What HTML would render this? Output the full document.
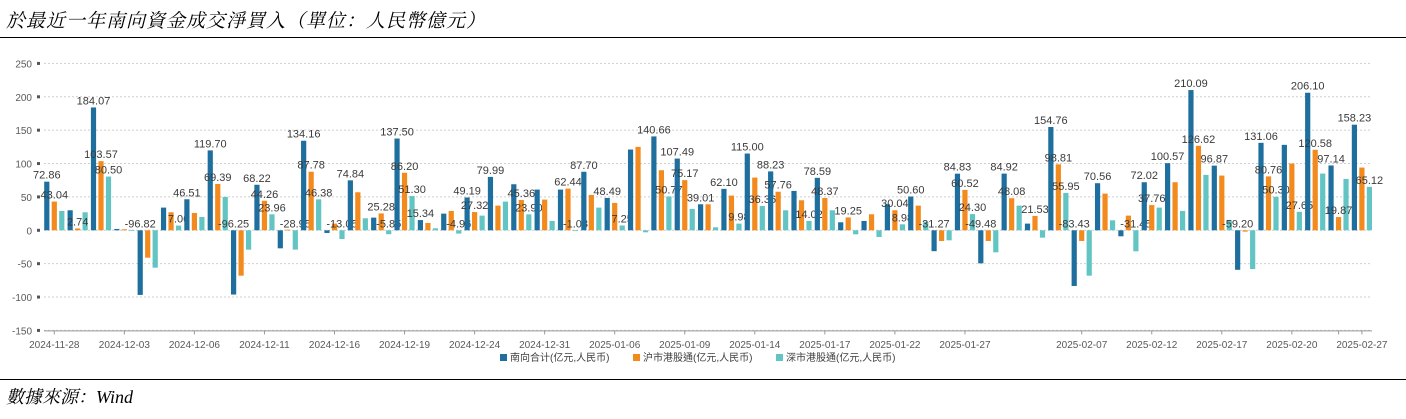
<!DOCTYPE html>
<html><head><meta charset="utf-8">
<style>
body{margin:0;width:1406px;height:419px;background:#fff;overflow:hidden;font-family:"Liberation Sans","Noto Sans CJK TC",sans-serif;}
#title{position:absolute;left:6px;top:6px;font-family:"Liberation Serif","Noto Serif CJK SC",serif;font-style:italic;font-size:19px;color:#000;letter-spacing:1px;}
#foot{position:absolute;left:6px;top:383px;font-family:"Liberation Serif","Noto Serif CJK SC",serif;font-style:italic;font-size:18px;color:#000;}
.hr{position:absolute;left:0;width:1406px;height:1px;background:#000;}
svg{position:absolute;left:0;top:0;}
</style></head><body>
<div id="title">於最近一年南向資金成交淨買入（單位：人民幣億元）</div>
<div class="hr" style="top:37px"></div>
<div class="hr" style="top:379px"></div>
<div id="foot">數據來源：Wind</div>
<svg id="chart" width="1406" height="419"></svg>
<script>
const categories=["2024-11-28","2024-11-29","2024-12-02","2024-12-03","2024-12-04","2024-12-05","2024-12-06","2024-12-09","2024-12-10","2024-12-11","2024-12-12","2024-12-13","2024-12-16","2024-12-17","2024-12-18","2024-12-19","2024-12-20","2024-12-23","2024-12-24","2024-12-27","2024-12-30","2024-12-31","2025-01-02","2025-01-03","2025-01-06","2025-01-07","2025-01-08","2025-01-09","2025-01-10","2025-01-13","2025-01-14","2025-01-15","2025-01-16","2025-01-17","2025-01-20","2025-01-21","2025-01-22","2025-01-23","2025-01-24","2025-01-27","2025-02-03","2025-02-04","2025-02-05","2025-02-06","2025-02-07","2025-02-10","2025-02-11","2025-02-12","2025-02-13","2025-02-14","2025-02-17","2025-02-18","2025-02-19","2025-02-20","2025-02-21","2025-02-24","2025-02-27"];
const southTotal=[72.86,30,184.07,2,-96.82,34,46.51,119.70,-96.25,68.22,-27,134.16,-4,74.84,19,137.50,15.34,25,49.19,79.99,69,61,61,87.70,48.49,121,140.66,107.49,39.01,62.10,115.00,88.23,59,78.59,12,14,39,50.60,-31.27,84.83,-49.48,84.92,10,154.76,-83.43,70.56,-9,72.02,100.57,210.09,96.87,-59.20,131.06,128,206.10,97.14,158.23];
const shanghaiConnect=[43.04,2.74,103.57,1.5,-41,27,26,69.39,-68,44.26,1,87.78,10,57,25.28,86.20,11,29,27.32,37,45.36,46,62.44,53,41,125,90,75.17,39,52,79,57.76,45,48.37,19.25,24,30.04,37,-16,60.52,-16,48.08,21.53,98.81,-16,55,22,37.76,72,126.62,82,-2,80.76,100,120.58,19.87,94];
const shenzhenConnect=[29,27,80.50,0.5,-56,7.06,20,50,-29,23.96,-28.95,46.38,-13.05,18,-5.85,51.30,3,-4.96,22,43,23.90,14,-1.08,34,7.25,-3,50.77,32,4.5,9.98,36.36,30,14.02,30,-6,-10,8.98,13,-15,24.30,-33,37,-11,55.95,-68,15,-31.45,34,29,83,15,-58,50.30,27.65,85,77,65.12];
const labelShown=["bo","o","bot","","b","t","b","bo","b","bot","t","bot","t","b","ot","bot","b","t","bo","b","ot","","ot","b","bt","","bt","bo","b","bt","bt","bo","t","bo","o","","ot","b","b","bot","b","bo","o","bot","b","b","t","bo","b","bo","b","b","bot","t","bo","bo","bt"];
const yTicks=[250,200,150,100,50,0,-50,-100,-150];
const tickIdx=[0,3,6,9,12,15,18,21,24,27,30,33,36,39,44,47,50,53,55,56];
const tickLabels=["2024-11-28","2024-12-03","2024-12-06","2024-12-11","2024-12-16","2024-12-19","2024-12-24","2024-12-31","2025-01-06","2025-01-09","2025-01-14","2025-01-17","2025-01-22","2025-01-27","2025-02-07","2025-02-12","2025-02-17","2025-02-20","","2025-02-27"];
const seriesNames=["南向合计(亿元,人民币)","沪市港股通(亿元,人民币)","深市港股通(亿元,人民币)"];
const colors=["#1f6f9e","#f28a1e","#62c5c4"];
const NS="http://www.w3.org/2000/svg";
const svg=document.getElementById('chart');
function y(v){return 230.3-v*0.6675;}
function x(i){return 54.3+i*23.35;}
function mk(t,a){const e=document.createElementNS(NS,t);for(const k in a)e.setAttribute(k,a[k]);svg.appendChild(e);return e;}
yTicks.forEach(v=>{
  const g=mk('line',{x1:44,x2:1372,y1:y(v),y2:y(v),stroke:'#cfcfcf','stroke-dasharray':'2,2'});
  
  
  const m=mk('rect',{x:37,y:y(v)-1.5,width:3,height:3,fill:'#555'});
  
  
  const t=mk('text',{x:32,y:y(v)+4,'text-anchor':'end','font-size':10,fill:'#595959'});
  t.textContent=v;
  
  
});
const ax=mk('line',{x1:44,x2:1372,y1:y(-150)+0.5,y2:y(-150)+0.5,stroke:'#999'});


tickIdx.forEach((gi,k)=>{
  const tk=mk('line',{x1:x(gi),x2:x(gi),y1:y(-150),y2:y(-150)+4,stroke:'#999'});
  
  
  const t=mk('text',{x:x(gi),y:348,'text-anchor':'middle','font-size':10,fill:'#595959'});
  t.textContent=tickLabels[k];
  
  
});
const series=[southTotal,shanghaiConnect,shenzhenConnect];
const keys="bot";
categories.forEach((c,i)=>{
  series.forEach((s,si)=>{
    const v=s[i];const cx=x(i)+(si-1)*7.5;
    const top=Math.min(y(v),y(0));const h=Math.abs(y(v)-y(0));
    const r=mk('rect',{x:cx-2.6,y:top,width:5.2,height:Math.max(h,0.8),fill:colors[si]});
    
    
  });
  series.forEach((s,si)=>{
    if(labelShown[i].indexOf(keys[si])<0)return;
    const v=s[i];const cx=x(i)+(si-1)*7.5;
    const ly=v>=0?y(v)-3:y(0)-3;
    const t=mk('text',{x:cx,y:ly,'text-anchor':'middle','font-size':11,fill:'#3a3a3a'});
    t.textContent=v.toFixed(2);
    
    
  });
});
let lx=500;
seriesNames.forEach((n,si)=>{
  const r=mk('rect',{x:lx,y:354,width:7,height:7,fill:colors[si]});
  
  
  const t=mk('text',{x:lx+10,y:361,'font-size':10,fill:'#404040'});
  t.textContent=n;
  
  
  lx+=si==0?133:143;
});
</script>
</body></html>
